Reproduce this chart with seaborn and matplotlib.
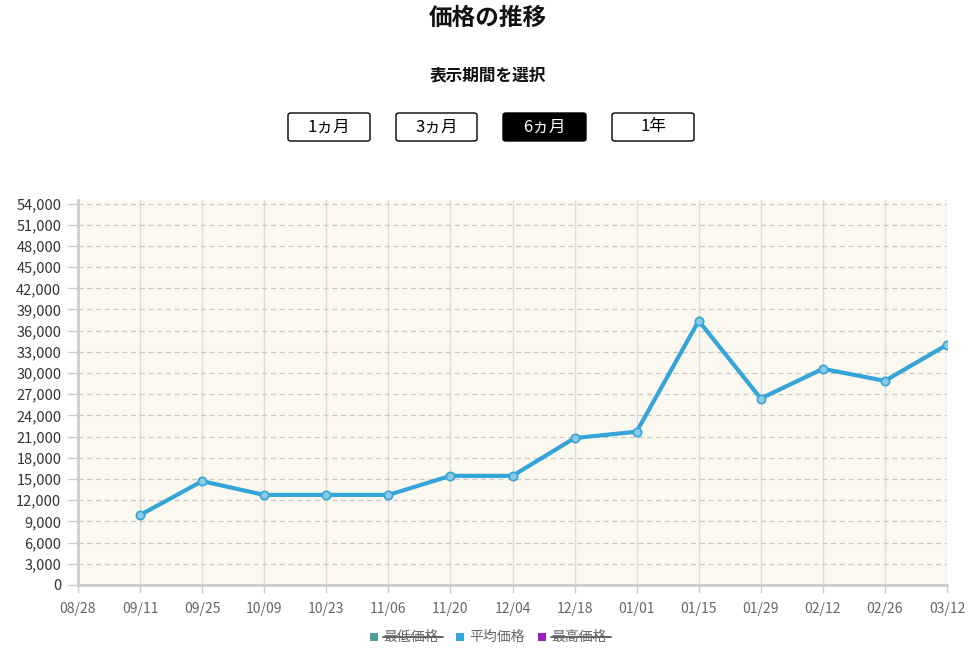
import matplotlib
matplotlib.use("Agg")
import matplotlib.pyplot as plt
import seaborn as sns
import pandas as pd
import numpy as np
from matplotlib.patches import FancyBboxPatch, Rectangle
from matplotlib.lines import Line2D
import matplotlib.transforms as mtrans

dates = ["08/28","09/11","09/25","10/09","10/23","11/06","11/20","12/04","12/18","01/01","01/15","01/29","02/12","02/26","03/12"]
avg_dates = dates[1:]
avg_price = [9900,14700,12750,12750,12750,15450,15450,20800,21700,37400,26400,30600,28900,34000]
yticks = list(range(0, 54001, 3000))
buttons = ["1ヵ月","3ヵ月","6ヵ月","1年"]
legend_labels = ["最低価格","平均価格","最高価格"]

sns.set_theme(style="white")
plt.rcParams['font.family'] = ['Noto Sans CJK JP', 'DejaVu Sans']

W, H = 976, 650
fig = plt.figure(figsize=(W/100, H/100), dpi=100)
ax = fig.add_axes([78/W, 1-585/H, (947-78)/W, (585-200)/H])
ax.set_facecolor("#fbf8ef")

df = pd.DataFrame({"x": [dates.index(d) for d in avg_dates], "y": avg_price})
sns.lineplot(data=df, x="x", y="y", ax=ax, color="#35a4d8", linewidth=3,
             marker="o", markersize=6, markerfacecolor="#8ccbe8",
             markeredgecolor="#35a4d8", markeredgewidth=1.2, zorder=5)

ax.set_xlim(0, len(dates)-1)
ax.set_ylim(0, 54500)
ax.set_xticks(range(len(dates)))
ax.set_xticklabels(dates, fontsize=10, color="#666666")
ax.set_yticks(yticks)
ax.set_yticklabels([f"{v:,}" for v in yticks], fontsize=10.5, color="#333333")
off = mtrans.ScaledTranslation(0, 7/100, fig.dpi_scale_trans)
for lab in ax.get_yticklabels():
    lab.set_transform(lab.get_transform() + off)
for x in range(len(dates)):
    ax.axvline(x, color="#dddddd", lw=1, zorder=1)
for v in yticks[1:]:
    ax.axhline(v, color="#c8c8c8", lw=0.9, ls=(0, (4, 3)), zorder=1)
ax.tick_params(axis="both", length=6, color="#cccccc", width=1, pad=6, left=True, bottom=True)
ax.tick_params(axis="y", length=8, pad=4)
for s in ["top", "right"]:
    ax.spines[s].set_visible(False)
for s in ["left", "bottom"]:
    ax.spines[s].set_color("#cccccc")
    ax.spines[s].set_linewidth(2)
ax.set_xlabel(""); ax.set_ylabel("")

fig.text(488/W, 1-18/H, "価格の推移", ha="center", va="center", fontsize=17, fontweight="bold", color="#111111")
fig.text(488/W, 1-75/H, "表示期間を選択", ha="center", va="center", fontsize=12, fontweight="bold", color="#111111")

bx = [(288, 370), (396, 477), (503, 586), (612, 694)]
for (x0, x1), lab in zip(bx, buttons):
    active = lab == "6ヵ月"
    p = FancyBboxPatch((x0/W, 1-141/H), (x1-x0)/W, 28/H, boxstyle="round,pad=0,rounding_size=0.003",
                       transform=fig.transFigure, facecolor="black" if active else "white",
                       edgecolor="black", lw=1)
    fig.patches.append(p)
    fig.text((x0+x1)/2/W, 1-127/H, lab, ha="center", va="center", fontsize=12,
             color="white" if active else "black")

leg = [(374, "#4a9e9a", True), (460, "#35a4d8", False), (542, "#9b1fc1", True)]
for (sx, c, hidden), lab in zip(leg, legend_labels):
    fig.patches.append(Rectangle(((sx-4)/W, 1-641/H), 8/W, 8/H, transform=fig.transFigure, facecolor=c, edgecolor="none"))
    fig.text((sx+9)/W, 1-637/H, lab, ha="left", va="center", fontsize=10, color="#666666")
    if hidden:
        fig.lines.append(Line2D([(sx+9)/W, (sx+69)/W], [1-637/H, 1-637/H], transform=fig.transFigure, color="#555555", lw=1.3))

fig.savefig("out.png", dpi=100)
